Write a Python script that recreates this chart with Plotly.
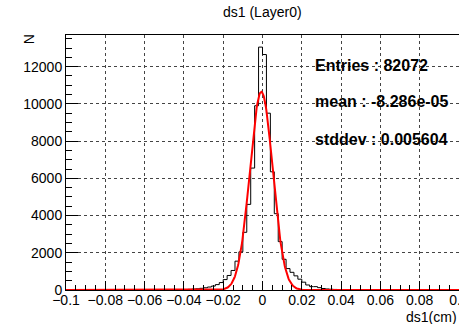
import numpy as np
import plotly.graph_objects as go

# Histogram of ds1: 100 bins of width 0.002 cm over [-0.1, 0.1]
x_min, x_max, n_bins = -0.1, 0.1, 100
# Non-empty bins, keyed by their lower edge
filled_edges = [
    -0.050, -0.048, -0.046, -0.044, -0.042, -0.040, -0.038, -0.036, -0.034, -0.032,
    -0.030, -0.028, -0.026, -0.024, -0.022, -0.020, -0.018, -0.016, -0.014, -0.012,
    -0.010, -0.008, -0.006, -0.004, -0.002, 0.000, 0.002, 0.004, 0.006, 0.008,
    0.010, 0.012, 0.014, 0.016, 0.018, 0.020, 0.022, 0.024, 0.026, 0.028,
    0.030, 0.032, 0.034, 0.036, 0.038, 0.040,
]
filled_counts = [
    10, 10, 15, 15, 20, 25, 35, 50, 65, 90,
    120, 160, 210, 290, 400, 560, 780, 1050, 1550, 2050,
    3100, 4600, 6550, 9900, 13050, 12650, 9500, 6350, 4100, 2600,
    1650, 1150, 950, 760, 580, 420, 270, 180, 180, 125,
    80, 55, 40, 30, 20, 15,
]

# Gaussian fit parameters
fit_const = 10650.0
fit_mean = -0.0006
fit_sigma = 0.0058

# Summary statistics shown on the canvas
stats_lines = ["Entries : 82072", "mean : -8.286e-05", "stddev : 0.005604"]

x_ticks = [-0.1, -0.08, -0.06, -0.04, -0.02, 0, 0.02, 0.04, 0.06, 0.08, 0.1]
x_tick_text = ["\u22120.1", "\u22120.08", "\u22120.06", "\u22120.04", "\u22120.02", "0",
               "0.02", "0.04", "0.06", "0.08", "0.1"]
y_ticks = [0, 2000, 4000, 6000, 8000, 10000, 12000]
y_tick_text = [str(v) for v in y_ticks]

# Build the full bin contents
edges = np.linspace(x_min, x_max, n_bins + 1)
counts = np.zeros(n_bins)
for e, c in zip(filled_edges, filled_counts):
    counts[int(round((e - x_min) / 0.002))] = c

step_x = list(edges)
step_y = list(counts) + [counts[-1]]

fx = np.linspace(x_min, x_max, 801)
fy = fit_const * np.exp(-0.5 * ((fx - fit_mean) / fit_sigma) ** 2)

FONT = "Liberation Sans, Arial, Helvetica, sans-serif"

fig = go.Figure()
fig.add_trace(go.Scatter(x=step_x, y=step_y, mode="lines", line_shape="hv",
                         line=dict(color="black", width=1), hoverinfo="skip"))
fig.add_trace(go.Scatter(x=fx, y=fy, mode="lines",
                         line=dict(color="#ff0000", width=2), hoverinfo="skip"))

axis_common = dict(
    showline=True, linecolor="black", linewidth=1, mirror=True,
    ticks="inside", tickcolor="black", tickwidth=1,
    showgrid=True, gridcolor="#444444", griddash="dot", gridwidth=1,
    zeroline=False, automargin=False, ticklabeloverflow="allow",
    tickfont=dict(family=FONT, size=14, color="black"),
)

fig.update_xaxes(range=[x_min, x_max], tickvals=x_ticks, ticktext=x_tick_text,
                 ticklen=9, ticklabelstandoff=-3,
                 minor=dict(dtick=0.005, tick0=0, ticks="inside", ticklen=5,
                            tickcolor="black", showgrid=False),
                 **axis_common)
fig.update_yaxes(range=[0, 13700], tickvals=y_ticks, ticktext=y_tick_text,
                 ticklen=12,
                 minor=dict(dtick=500, tick0=0, ticks="inside", ticklen=6,
                            tickcolor="black", showgrid=False),
                 **axis_common)

annotations = [
    dict(text="ds1 (Layer0)", x=0.5, y=1.09, xref="paper", yref="paper",
         showarrow=False, xanchor="center", yanchor="middle",
         font=dict(family=FONT, size=14, color="black")),
    dict(text="N", x=-0.094, y=0.984, xref="paper", yref="paper", textangle=-90,
         showarrow=False, xanchor="center", yanchor="middle",
         font=dict(family=FONT, size=14, color="black")),
    dict(text="ds1(cm)", x=1.0, y=-0.106, xref="paper", yref="paper",
         showarrow=False, xanchor="right", yanchor="middle",
         font=dict(family=FONT, size=14, color="black")),
]
for line, yp in zip(stats_lines, [0.882, 0.738, 0.592]):
    annotations.append(dict(text="<b>" + line + "</b>", x=0.628, y=yp,
                            xref="paper", yref="paper", showarrow=False,
                            xanchor="left", yanchor="middle",
                            font=dict(family=FONT, size=16, color="black")))

fig.update_layout(
    width=459, height=324,
    margin=dict(l=66, r=0, t=35, b=34),
    paper_bgcolor="white", plot_bgcolor="white",
    showlegend=False,
    annotations=annotations,
)

fig.write_html("out.html")
